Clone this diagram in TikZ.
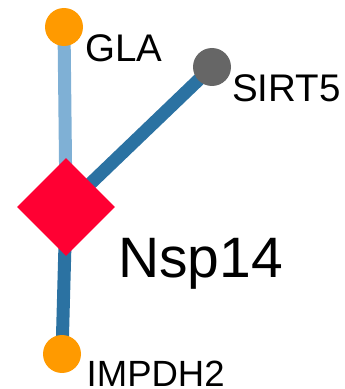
\documentclass[tikz,border=0pt]{standalone}
\usepackage{fontspec}
\setmainfont{Liberation Sans}
\usetikzlibrary{shapes.geometric}
\definecolor{nodeorange}{HTML}{FF9A00}
\definecolor{nodegray}{HTML}{666666}
\definecolor{nodered}{HTML}{FF0033}
\definecolor{edgelight}{HTML}{7FB0D5}
\definecolor{edgedark}{HTML}{2B72A2}
\tikzset{
  gene/.style={circle, fill=#1, draw=none, minimum size=38pt, inner sep=0pt},
  hub/.style={diamond, aspect=1, fill=nodered, draw=none, minimum size=98pt, inner sep=0pt},
  lbl/.style={anchor=base west, inner sep=0pt, font=\fontsize{38.5pt}{40pt}\selectfont},
  biglbl/.style={anchor=base west, inner sep=0pt, font=\fontsize{57pt}{60pt}\selectfont},
  edge/.style={line width=13pt, draw=#1}
}
\begin{document}
\begin{tikzpicture}[x=1pt,y=1pt]
\useasboundingbox (0,0) rectangle (345,389);
\coordinate (cgla) at (64,362);
\coordinate (csirt) at (212,322);
\coordinate (chub) at (66,182);
\coordinate (cimp) at (62,35);
\draw[edge=edgelight, line cap=round] (cgla) -- (chub);
\draw[edge=edgedark] (csirt) -- (chub);
\draw[edge=edgedark] (cimp) -- (chub);
\node[hub] (nsp) at (chub) {};
\node[gene=nodeorange] (gla) at (cgla) {};
\node[gene=nodegray] (sirt) at (csirt) {};
\node[gene=nodeorange] (imp) at (cimp) {};
\node[lbl] (tgla) at (85,327) {GLA};
\node[lbl] (tsirt) at (232,287) {SIRT5};
\node[biglbl] (tnsp) at (118,111) {Nsp14};
\node[lbl, font=\fontsize{36.5pt}{40pt}\selectfont] (timp) at (86.5,2) {IMPDH2};
\end{tikzpicture}
\end{document}
